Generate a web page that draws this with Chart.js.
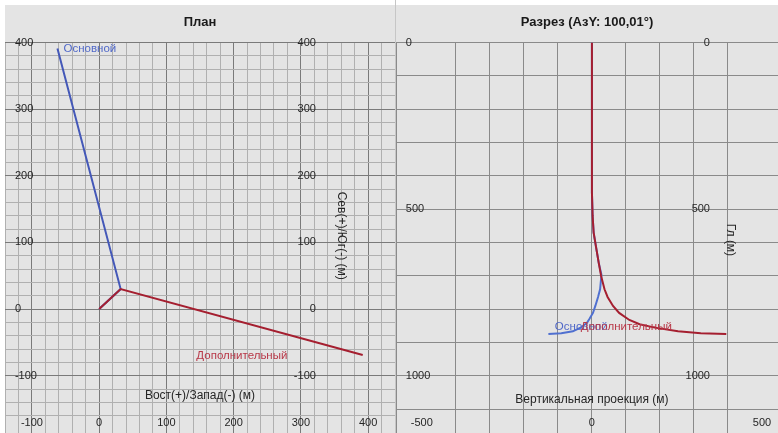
<!DOCTYPE html>
<html>
<head>
<meta charset="utf-8">
<script src="https://cdn.jsdelivr.net/npm/chart.js@4"></script>
<style>
  html, body { margin: 0; background: #fff; }
  #wrap { position: relative; width: 778px; height: 433px; overflow: hidden; }
  .pane { position: absolute; top: 5px; height: 428px; background: #e4e4e4; }
  #pl { left: 5px; width: 390px; }
  #pr { left: 396px; width: 382px; }
  #sep { position: absolute; left: 395px; top: 0; width: 1px; height: 433px; background: #c6c6c6; }
</style>
</head>
<body>
<div id="wrap">
  <div class="pane" id="pl"><canvas id="plan" width="390" height="428"></canvas></div>
  <div id="sep"></div>
  <div class="pane" id="pr"><canvas id="sect" width="382" height="428"></canvas></div>
</div>
<script>
// --- plan view (East, North in m)
const planTicksX = [-100, 0, 100, 200, 300, 400];
const planTicksY = [400, 300, 200, 100, 0, -100];
const mainPlanE = [0, 32, -62];
const mainPlanN = [0, 30, 391];
const addPlanE  = [0, 32, 392];
const addPlanN  = [0, 30, -69];

// --- vertical section (projection, depth in m)
const sectTicksX = [-500, 0, 500];
const sectTicksY = [0, 500, 1000];
const mainSectV = [0, 0, 2, 5, 12, 20, 28, 24, 18, 10, 3, -8, -15, -35, -56, -90, -128];
const mainSectD = [0, 450, 520, 570, 613, 661, 697, 740, 763, 790, 811, 830, 841, 856, 866, 872, 874];
const addSectV  = [0, 0, 2, 5, 12, 20, 27, 37, 46, 62, 80, 110, 140, 185, 253, 320, 395];
const addSectD  = [0, 450, 520, 570, 613, 661, 700, 740, 763, 790, 811, 832, 845, 855, 866, 872, 874];

const names = ['Основной', 'Дополнительный'];
const BLUE = '#4458b8', RED = '#a51f30';
const FONT = '"Liberation Sans", Arial, sans-serif';

const pts = (xs, ys) => xs.map((v, i) => ({ x: v, y: ys[i] }));

function gridColor(major, minor) {
  return c => {
    const v = c.tick.value;
    if (v % major === 0) return '#7a7a7a';
    if (v % minor === 0) return '#b0b0b0';
    return 'rgba(0,0,0,0)';
  };
}

function textPlugin(o) {
  return {
    id: 'texts',
    afterDraw(chart) {
      const { ctx, chartArea: a, scales: { x, y } } = chart;
      ctx.save();
      ctx.textBaseline = 'middle';
      ctx.fillStyle = '#1a1a1a';
      ctx.font = 'bold 13px ' + FONT;
      ctx.textAlign = 'center';
      ctx.fillText(o.title, chart.width / 2, 17.5);

      ctx.font = '11px ' + FONT;
      ctx.fillStyle = '#262626';
      o.yCols.forEach(col => {
        ctx.textAlign = col.align;
        o.yTicks.forEach(v => ctx.fillText(String(v), x.getPixelForValue(col.at) + col.off, y.getPixelForValue(v)));
      });
      ctx.textAlign = 'center';
      o.xTicks.forEach(v => ctx.fillText(String(v), x.getPixelForValue(v), a.bottom - 10));

      ctx.font = '12px ' + FONT;
      ctx.fillText(o.xTitle[0], x.getPixelForValue(o.xTitle[1]), y.getPixelForValue(o.xTitle[2]));
      ctx.save();
      ctx.translate(x.getPixelForValue(o.yTitle[1]), y.getPixelForValue(o.yTitle[2]));
      ctx.rotate(Math.PI / 2);
      ctx.fillText(o.yTitle[0], 0, 0);
      ctx.restore();

      ctx.font = '11.5px ' + FONT;
      o.tags.forEach(t => {
        ctx.fillStyle = t.color;
        ctx.textAlign = t.align;
        ctx.fillText(t.text, x.getPixelForValue(t.x), y.getPixelForValue(t.y));
      });
      ctx.restore();
    }
  };
}

function baseOptions(xr, yr, step, reverseY) {
  const axis = (r, rev) => ({
    type: 'linear', min: r[0], max: r[1], reverse: !!rev,
    ticks: { display: false, stepSize: step, autoSkip: false },
    grid: { color: gridColor(100, step), drawTicks: false, lineWidth: 1 },
    border: { display: false }
  });
  return {
    responsive: false,
    animation: false,
    events: [],
    layout: { padding: { top: 37.5, left: 0, right: 0, bottom: 0 } },
    plugins: { legend: { display: false }, tooltip: { enabled: false } },
    scales: { x: axis(xr), y: axis(yr, reverseY) }
  };
}

// plan chart
const planOpts = baseOptions([-140, 440], [-186, 400], 20, false);
new Chart(document.getElementById('plan'), {
  type: 'scatter',
  data: {
    datasets: [
      { label: names[1], data: pts(addPlanE, addPlanN), showLine: true, borderColor: RED, borderWidth: 2, pointRadius: 0, tension: 0 },
      { label: names[0], data: pts(mainPlanE, mainPlanN), showLine: true, borderColor: BLUE, borderWidth: 2, pointRadius: 0, tension: 0 }
    ]
  },
  options: planOpts,
  plugins: [textPlugin({
    title: 'План',
    xTicks: planTicksX, yTicks: planTicksY,
    yCols: [{ at: -100, align: 'left', off: -17 }, { at: 300, align: 'right', off: 15 }],
    xTitle: ['Вост(+)/Запад(-) (м)', 150, -130],
    yTitle: ['Сев(+)/Юг(-) (м)', 360, 110],
    tags: [
      { text: names[0], x: -53, y: 391, align: 'left', color: '#5068c8' },
      { text: names[1], x: 280, y: -70, align: 'right', color: '#b83848' }
    ]
  })]
});

// section chart
const sectOpts = baseOptions([-576, 547], [0, 1171], 100, true);
sectOpts.scales.x.grid.color = '#8a8a8a';
sectOpts.scales.y.grid.color = '#8a8a8a';
new Chart(document.getElementById('sect'), {
  type: 'scatter',
  data: {
    datasets: [
      { label: names[1], data: pts(addSectV, addSectD), showLine: true, borderColor: RED, borderWidth: 2, pointRadius: 0, tension: 0 },
      { label: names[0], data: pts(mainSectV, mainSectD), showLine: true, borderColor: '#5070d0', borderWidth: 2, pointRadius: 0, tension: 0 }
    ]
  },
  options: sectOpts,
  plugins: [textPlugin({
    title: 'Разрез (AзY: 100,01°)',
    xTicks: sectTicksX, yTicks: sectTicksY,
    yCols: [{ at: -500, align: 'left', off: -16 }, { at: 300, align: 'right', off: 16 }],
    xTitle: ['Вертикальная проекция (м)', 0, 1072],
    yTitle: ['Гл (м)', 406, 592],
    tags: [
      { text: names[0], x: -109, y: 853, align: 'left', color: '#5068c8' },
      { text: names[1], x: 235, y: 853, align: 'right', color: '#b83848' }
    ]
  })]
});
</script>
</body>
</html>
